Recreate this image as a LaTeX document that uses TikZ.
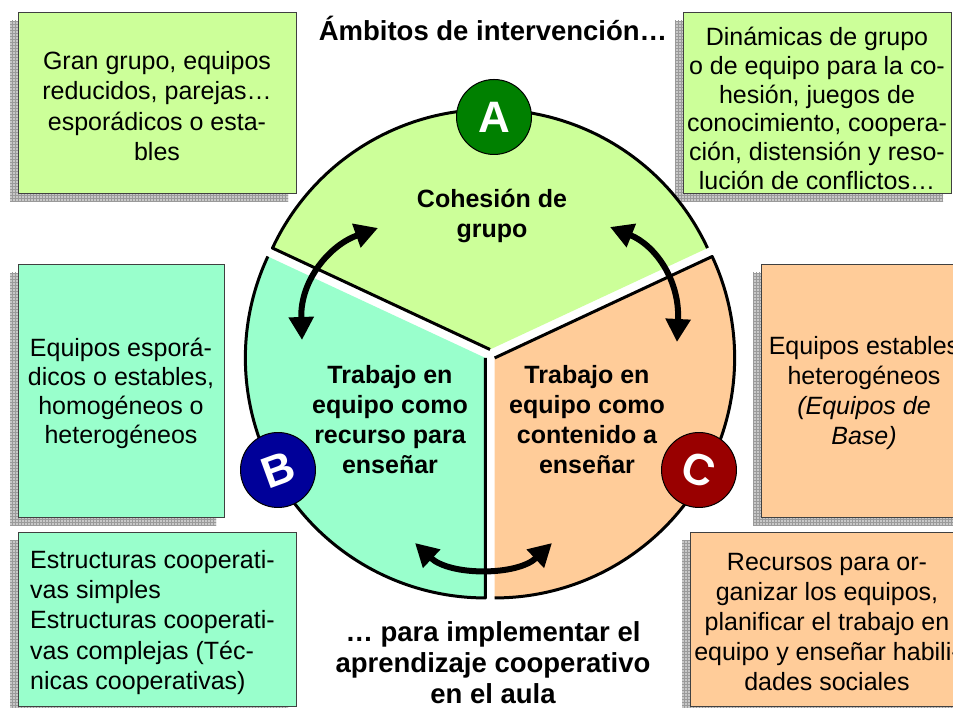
\documentclass[tikz,border=0pt]{standalone}
\usepackage{fontspec}
\setmainfont{Liberation Sans}
\usetikzlibrary{arrows.meta,patterns}
\definecolor{cA}{HTML}{CCFF99}
\definecolor{cB}{HTML}{99FFCC}
\definecolor{cC}{HTML}{FFCC99}
\definecolor{dA}{HTML}{008000}
\definecolor{dB}{HTML}{000099}
\definecolor{dC}{HTML}{990000}
\definecolor{shd}{HTML}{C8C8C8}
\definecolor{grd}{HTML}{9A9A9A}
\definecolor{bord}{HTML}{404040}
\begin{document}
\begin{tikzpicture}[x=1pt,y=1pt,
 shadowst/.style={fill=shd, postaction={pattern=grid, pattern color=grd}},
 boxst/.style={draw=bord, line width=1pt, inner sep=0pt},
 boxtext/.style={align=center, inner sep=0pt, font=\fontsize{25}{30.5}\selectfont},
 seclabel/.style={align=center, inner sep=0pt, font=\bfseries\fontsize{25}{30}\selectfont},
 bigtext/.style={align=center, inner sep=0pt, font=\bfseries\fontsize{27.5}{31}\selectfont},
 letterc/.style={circle, draw=black, line width=1pt, minimum size=75pt, inner sep=0pt, text=white, font=\bfseries\fontsize{44}{44}\selectfont},
 rim/.style={line width=3pt, line join=round},
 bigarrow/.style={line width=6pt, {Triangle[width=24pt,length=23pt]}-{Triangle[width=24pt,length=23pt]}}
]
\useasboundingbox (0,0) rectangle (953,708);
\clip (0,0) rectangle (953,708);
\fill[white] (0,0) rectangle (953,708);

% shadows and boxes
\path[shadowst] (10,506) rectangle (288,687);
\node[boxst, fill=cA, minimum width=278pt, minimum height=181pt] (b1) at (157,604.5) {};
\path[shadowst] (675,506) rectangle (943,687);
\node[boxst, fill=cA, minimum width=268pt, minimum height=181pt] (b2) at (817,604.5) {};
\path[shadowst] (10,182) rectangle (216,435);
\node[boxst, fill=cB, minimum width=206pt, minimum height=253pt] (b3) at (121,316.5) {};
\path[shadowst] (753,182) rectangle (959,435);
\node[boxst, fill=cC, minimum width=206pt, minimum height=253pt] (b4) at (864,316.5) {};
\path[shadowst] (10,-7) rectangle (288,167);
\node[boxst, fill=cB, minimum width=278pt, minimum height=174pt] (b5) at (157,88) {};
\path[shadowst] (682,-7) rectangle (956,167);
\node[boxst, fill=cC, minimum width=274pt, minimum height=174pt] (b6) at (827,88) {};

% box texts
\node[boxtext] (t1) at (157,602) {Gran grupo, equipos\\reducidos, parejas…\\esporádicos o esta-\\bles};
\node[boxtext, font=\fontsize{25}{28.7}\selectfont] (t2) at (817,599.5) {Dinámicas de grupo\\o de equipo para la co-\\hesión, juegos de\\conocimiento, coopera-\\ción, distensión y reso-\\lución de conflictos…};
\node[boxtext, font=\fontsize{25}{29}\selectfont] (t3) at (121,314.5) {Equipos esporá-\\dicos o estables,\\homogéneos o\\heterogéneos};
\node[boxtext, font=\fontsize{25}{30}\selectfont] (t4) at (864,315) {Equipos estables\\heterogéneos\\\textit{(Equipos de}\\\textit{Base)}};
\node[boxtext, align=left, anchor=west, font=\fontsize{25}{30.3}\selectfont] (t5) at (30,85.5) {Estructuras cooperati-\\vas simples\\Estructuras cooperati-\\vas complejas (Téc-\\nicas cooperativas)};
\node[boxtext, font=\fontsize{25}{30}\selectfont] (t6) at (827,86) {Recursos para or-\\ganizar los equipos,\\planificar el trabajo en\\equipo y enseñar habili-\\dades sociales};

% sectors
\coordinate (VA) at (490,358.5);
\coordinate (VB) at (485.36,350.05);
\coordinate (VC) at (494.64,350.05);
\fill[cA] (VA) -- ++(25:240) arc[start angle=25,end angle=155,radius=240] -- cycle;
\draw[rim] (VA) ++(25:240) arc[start angle=25,end angle=155,radius=240] -- (VA);
\fill[cB] (VB) -- ++(155:240) arc[start angle=155,end angle=270,radius=240] -- cycle;
\draw[rim] (VB) ++(155:240) arc[start angle=155,end angle=270,radius=240] -- (VB);
\fill[cC] (VC) -- ++(270:240) arc[start angle=270,end angle=385,radius=240] -- cycle;
\draw[rim] (VC) ++(270:240) arc[start angle=270,end angle=385,radius=240] -- (VC);

% sector labels
\node[seclabel] (tA) at (492,492.5) {Cohesión de\\grupo};
\node[seclabel] (tB) at (390,288.5) {Trabajo en\\equipo como\\recurso para\\enseñar};
\node[seclabel] (tC) at (587,288.5) {Trabajo en\\equipo como\\contenido a\\enseñar};

% arrows
\coordinate (a1s) at (302,368); \coordinate (a1e) at (378,480);
\coordinate (a1c) at (300,428); \coordinate (a1d) at (330,463);
\draw[bigarrow] (a1s) .. controls (a1c) and (a1d) .. (a1e);
\coordinate (a2s) at (677,366); \coordinate (a2e) at (610,481);
\coordinate (a2c) at (680,428); \coordinate (a2d) at (655,463);
\draw[bigarrow] (a2s) .. controls (a2c) and (a2d) .. (a2e);
\coordinate (a3s) at (415,165); \coordinate (a3e) at (552,165);
\coordinate (a3c) at (450,132); \coordinate (a3d) at (517,132);
\draw[bigarrow] (a3s) .. controls (a3c) and (a3d) .. (a3e);

% letter circles
\node[letterc, fill=dA] (LA) at (494,591) {A};
\node[letterc, fill=dB, rotate=20] (LB) at (278,238) {B};
\node[letterc, fill=dC, rotate=-20] (LC) at (699,238) {C};

% titles
\node[bigtext] (title) at (493,680) {Ámbitos de intervención…};
\node[bigtext] (bottom) at (493,45) {… para implementar el\\aprendizaje cooperativo\\en el aula};
\end{tikzpicture}
\end{document}
